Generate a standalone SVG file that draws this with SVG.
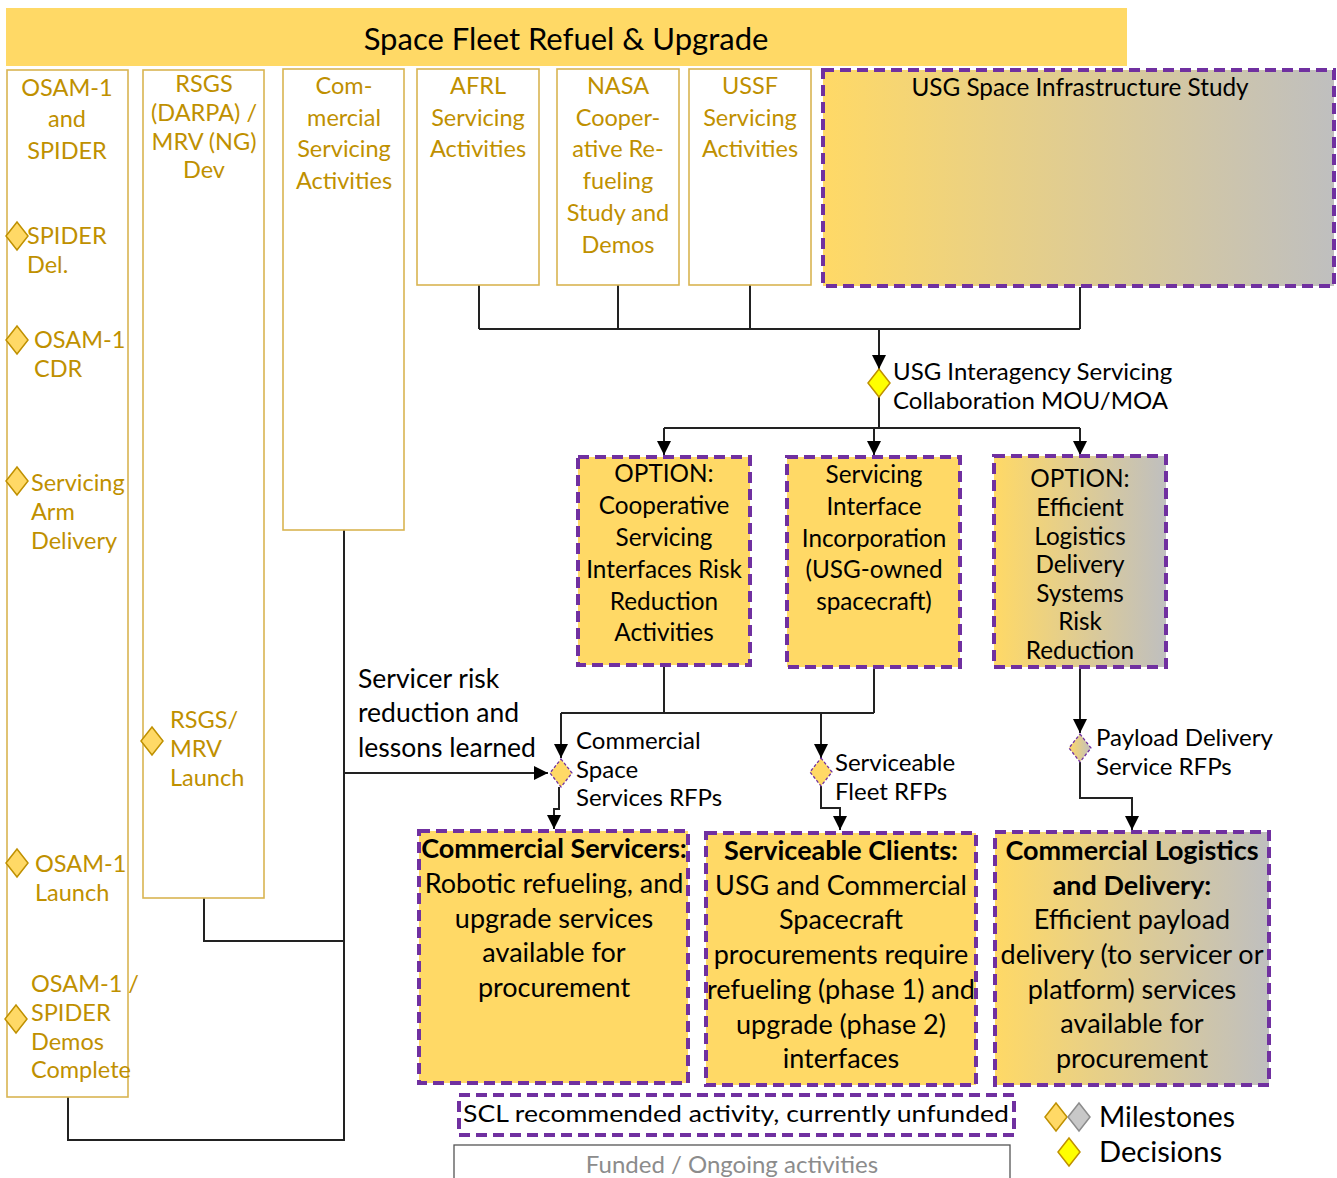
<svg xmlns="http://www.w3.org/2000/svg" width="1337" height="1178" viewBox="0 0 1337 1178">
<style>
text{font-family:Lato,"Liberation Sans",sans-serif;dominant-baseline:central}
.col{fill:#fff;stroke:#D9B552;stroke-width:1.6}
.gt{fill:#BF9000;font-size:23.5px;text-anchor:middle}
.gl{fill:#BF9000;font-size:23.5px}
.opt{stroke:#7030A0;stroke-width:4;stroke-dasharray:11 6}
.bt{fill:#000;font-size:24.3px;text-anchor:middle}
.bb{fill:#000;font-size:27px;text-anchor:middle}
.lb{fill:#000;font-size:24px}
.ms{fill:#FFD966;stroke:#BF9000;stroke-width:1.5}
.dec{fill:#FFFF00;stroke:#BF9000;stroke-width:1.5}
.pd{stroke:#7030A0;stroke-width:1.3;stroke-dasharray:3 2}
.c{fill:none;stroke:#222;stroke-width:2}
</style>
<defs>
<linearGradient id="gg" x1="0" y1="0" x2="1" y2="0">
<stop offset="0" stop-color="#FFD966"/><stop offset="1" stop-color="#BFBFBF"/>
</linearGradient>
<marker id="ah" markerUnits="userSpaceOnUse" markerWidth="14" markerHeight="14" viewBox="0 0 14 14" refX="14" refY="7" orient="auto">
<path d="M0,0 L14,7 L0,14 Z" fill="#000"/>
</marker>
</defs>

<g id="title">
<rect x="6" y="8" width="1121" height="58" fill="#FFD966"/>
<text x="566" y="38" font-size="31" text-anchor="middle" fill="#000">Space Fleet Refuel &amp; Upgrade</text>
</g>

<g id="connectors">
<path class="c" d="M479,285 V329 M618,285 V329 M750,285 V329 M1080,287 V329 M479,329 H1080"/>
<path class="c" d="M879,329 V369" marker-end="url(#ah)"/>
<path class="c" d="M879,397 V428 M664,428 H1080"/>
<path class="c" d="M664,428 V455" marker-end="url(#ah)"/>
<path class="c" d="M874,428 V455" marker-end="url(#ah)"/>
<path class="c" d="M1080,428 V455" marker-end="url(#ah)"/>
<path class="c" d="M664,665 V713 M874,667 V713 M561,713 H874"/>
<path class="c" d="M561,713 V758" marker-end="url(#ah)"/>
<path class="c" d="M821,713 V758" marker-end="url(#ah)"/>
<path class="c" d="M344,530 V1140 H68 V1097 M204,898 V941 H344"/>
<path class="c" d="M344,773 H548" marker-end="url(#ah)"/>
<path class="c" d="M559,787 V809 H554 V829" marker-end="url(#ah)"/>
<path class="c" d="M821,786 V808 H840 V830" marker-end="url(#ah)"/>
<path class="c" d="M1080,667 V733" marker-end="url(#ah)"/>
<path class="c" d="M1080,762 V798 H1132 V830" marker-end="url(#ah)"/>
</g>

<g id="osam1">
<rect class="col" x="7" y="70" width="121" height="1027"/>
<text class="gt" x="67" y="87">OSAM-1</text>
<text class="gt" x="67" y="118">and</text>
<text class="gt" x="67" y="150">SPIDER</text>
<path class="ms" d="M17,222 L28,236 L17,250 L6,236 Z"/>
<text class="gl" x="27" y="235">SPIDER</text>
<text class="gl" x="27" y="264">Del.</text>
<path class="ms" d="M17,326 L28,340 L17,354 L6,340 Z"/>
<text class="gl" x="34" y="339">OSAM-1</text>
<text class="gl" x="34" y="368">CDR</text>
<path class="ms" d="M17,467 L28,481 L17,495 L6,481 Z"/>
<text class="gl" x="31" y="482">Servicing</text>
<text class="gl" x="31" y="511">Arm</text>
<text class="gl" x="31" y="540">Delivery</text>
<path class="ms" d="M17,849 L28,863 L17,877 L6,863 Z"/>
<text class="gl" x="35" y="863">OSAM-1</text>
<text class="gl" x="35" y="892">Launch</text>
<path class="ms" d="M16,1005 L27,1019 L16,1033 L5,1019 Z"/>
<text class="gl" x="31" y="983">OSAM-1 /</text>
<text class="gl" x="31" y="1012">SPIDER</text>
<text class="gl" x="31" y="1041">Demos</text>
<text class="gl" x="31" y="1069">Complete</text>
</g>

<g id="rsgs">
<rect class="col" x="143" y="70" width="121" height="828"/>
<text class="gt" x="204" y="83">RSGS</text>
<text class="gt" x="204" y="112">(DARPA) /</text>
<text class="gt" x="204" y="141">MRV (NG)</text>
<text class="gt" x="204" y="169">Dev</text>
<path class="ms" d="M152,727 L163,741 L152,755 L141,741 Z"/>
<text class="gl" x="170" y="719">RSGS/</text>
<text class="gl" x="170" y="748">MRV</text>
<text class="gl" x="170" y="777">Launch</text>
</g>

<g id="commercial">
<rect class="col" x="283" y="69" width="121" height="461"/>
<text class="gt" x="344" y="85">Com-</text>
<text class="gt" x="344" y="117">mercial</text>
<text class="gt" x="344" y="148">Servicing</text>
<text class="gt" x="344" y="180">Activities</text>
</g>

<g id="afrl">
<rect class="col" x="417" y="69" width="122" height="216"/>
<text class="gt" x="478" y="85">AFRL</text>
<text class="gt" x="478" y="117">Servicing</text>
<text class="gt" x="478" y="148">Activities</text>
</g>

<g id="nasa">
<rect class="col" x="557" y="69" width="122" height="216"/>
<text class="gt" x="618" y="85">NASA</text>
<text class="gt" x="618" y="117">Cooper-</text>
<text class="gt" x="618" y="148">ative Re-</text>
<text class="gt" x="618" y="180">fueling</text>
<text class="gt" x="618" y="212">Study and</text>
<text class="gt" x="618" y="244">Demos</text>
</g>

<g id="ussf">
<rect class="col" x="689" y="69" width="122" height="216"/>
<text class="gt" x="750" y="85">USSF</text>
<text class="gt" x="750" y="117">Servicing</text>
<text class="gt" x="750" y="148">Activities</text>
</g>

<g id="usg-study">
<rect class="opt" x="823" y="70" width="511" height="216" fill="url(#gg)"/>
<text x="1080" y="86" style="font-size:24.3px" fill="#000" text-anchor="middle">USG Space Infrastructure Study</text>
</g>

<g id="mou">
<path class="dec" d="M879,369 L890,383 L879,397 L868,383 Z"/>
<text class="lb" x="893" y="370">USG Interagency Servicing</text>
<text class="lb" x="893" y="399">Collaboration MOU/MOA</text>
</g>

<g id="opt-coop">
<rect class="opt" x="578" y="457" width="172" height="208" fill="#FFD966"/>
<text class="bt" x="664" y="472">OPTION:</text>
<text class="bt" x="664" y="504">Cooperative</text>
<text class="bt" x="664" y="536">Servicing</text>
<text class="bt" x="664" y="568">Interfaces Risk</text>
<text class="bt" x="664" y="600">Reduction</text>
<text class="bt" x="664" y="631">Activities</text>
</g>

<g id="interface">
<rect class="opt" x="787" y="457" width="173" height="210" fill="#FFD966"/>
<text class="bt" x="874" y="473">Servicing</text>
<text class="bt" x="874" y="505">Interface</text>
<text class="bt" x="874" y="537">Incorporation</text>
<text class="bt" x="874" y="568">(USG-owned</text>
<text class="bt" x="874" y="600">spacecraft)</text>
</g>

<g id="opt-logistics">
<rect class="opt" x="994" y="456" width="172" height="211" fill="url(#gg)"/>
<text class="bt" x="1080" y="477">OPTION:</text>
<text class="bt" x="1080" y="506">Efficient</text>
<text class="bt" x="1080" y="535">Logistics</text>
<text class="bt" x="1080" y="563">Delivery</text>
<text class="bt" x="1080" y="592">Systems</text>
<text class="bt" x="1080" y="620">Risk</text>
<text class="bt" x="1080" y="649">Reduction</text>
</g>

<g id="lessons">
<text x="358" y="678" font-size="26.5" fill="#000">Servicer risk</text>
<text x="358" y="712" font-size="26.5" fill="#000">reduction and</text>
<text x="358" y="747" font-size="26.5" fill="#000">lessons learned</text>
</g>

<g id="css-rfp">
<path class="pd" d="M561,759 L572,773 L561,787 L550,773 Z" fill="#FFD966"/>
<text class="lb" x="576" y="739">Commercial</text>
<text class="lb" x="576" y="768">Space</text>
<text class="lb" x="576" y="796">Services RFPs</text>
</g>

<g id="fleet-rfp">
<path class="pd" d="M821,758 L832,772 L821,786 L810,772 Z" fill="#FFD966"/>
<text class="lb" x="835" y="761">Serviceable</text>
<text class="lb" x="835" y="790">Fleet RFPs</text>
</g>

<g id="payload-rfp">
<path class="pd" d="M1080,734 L1091,748 L1080,762 L1069,748 Z" fill="url(#gg)"/>
<text class="lb" x="1096" y="736">Payload Delivery</text>
<text class="lb" x="1096" y="765">Service RFPs</text>
</g>

<g id="servicers">
<rect class="opt" x="419" y="831" width="269" height="252" fill="#FFD966"/>
<text class="bb" x="554" y="847" font-weight="bold">Commercial Servicers:</text>
<text class="bb" x="554" y="882">Robotic refueling, and</text>
<text class="bb" x="554" y="917">upgrade services</text>
<text class="bb" x="554" y="951">available for</text>
<text class="bb" x="554" y="986">procurement</text>
</g>

<g id="clients">
<rect class="opt" x="706" y="833" width="270" height="252" fill="#FFD966"/>
<text class="bb" x="841" y="849" font-weight="bold">Serviceable Clients:</text>
<text class="bb" x="841" y="884">USG and Commercial</text>
<text class="bb" x="841" y="918">Spacecraft</text>
<text class="bb" x="841" y="953">procurements require</text>
<text class="bb" x="841" y="988">refueling (phase 1) and</text>
<text class="bb" x="841" y="1023">upgrade (phase 2)</text>
<text class="bb" x="841" y="1057">interfaces</text>
</g>

<g id="logistics">
<rect class="opt" x="995" y="832" width="274" height="253" fill="url(#gg)"/>
<text class="bb" x="1132" y="849" font-weight="bold">Commercial Logistics</text>
<text class="bb" x="1132" y="884" font-weight="bold">and Delivery:</text>
<text class="bb" x="1132" y="918">Efficient payload</text>
<text class="bb" x="1132" y="953">delivery (to servicer or</text>
<text class="bb" x="1132" y="988">platform) services</text>
<text class="bb" x="1132" y="1022">available for</text>
<text class="bb" x="1132" y="1057">procurement</text>
</g>

<g id="legend">
<rect class="opt" x="459" y="1095" width="555" height="40" fill="#fff"/>
<text x="463" y="1112" font-size="24" fill="#000" textLength="546" lengthAdjust="spacingAndGlyphs">SCL recommended activity, currently unfunded</text>
<rect x="454" y="1145" width="556" height="40" fill="#fff" stroke="#555" stroke-width="1.3"/>
<text x="732" y="1163" font-size="24" fill="#8C8C8C" text-anchor="middle">Funded / Ongoing activities</text>
<path d="M1056,1103 L1067,1117 L1056,1131 L1045,1117 Z" fill="#FFD966" stroke="#BF9000" stroke-width="1.5"/>
<path d="M1079,1103 L1090,1117 L1079,1131 L1068,1117 Z" fill="#C8C8C8" stroke="#8C8C8C" stroke-width="1.5"/>
<text x="1099" y="1115" font-size="29" fill="#000" textLength="136" lengthAdjust="spacingAndGlyphs">Milestones</text>
<path class="dec" d="M1069,1138 L1080,1152 L1069,1166 L1058,1152 Z" stroke="#555"/>
<text x="1099" y="1150" font-size="29" fill="#000" textLength="123" lengthAdjust="spacingAndGlyphs">Decisions</text>
</g>
</svg>
